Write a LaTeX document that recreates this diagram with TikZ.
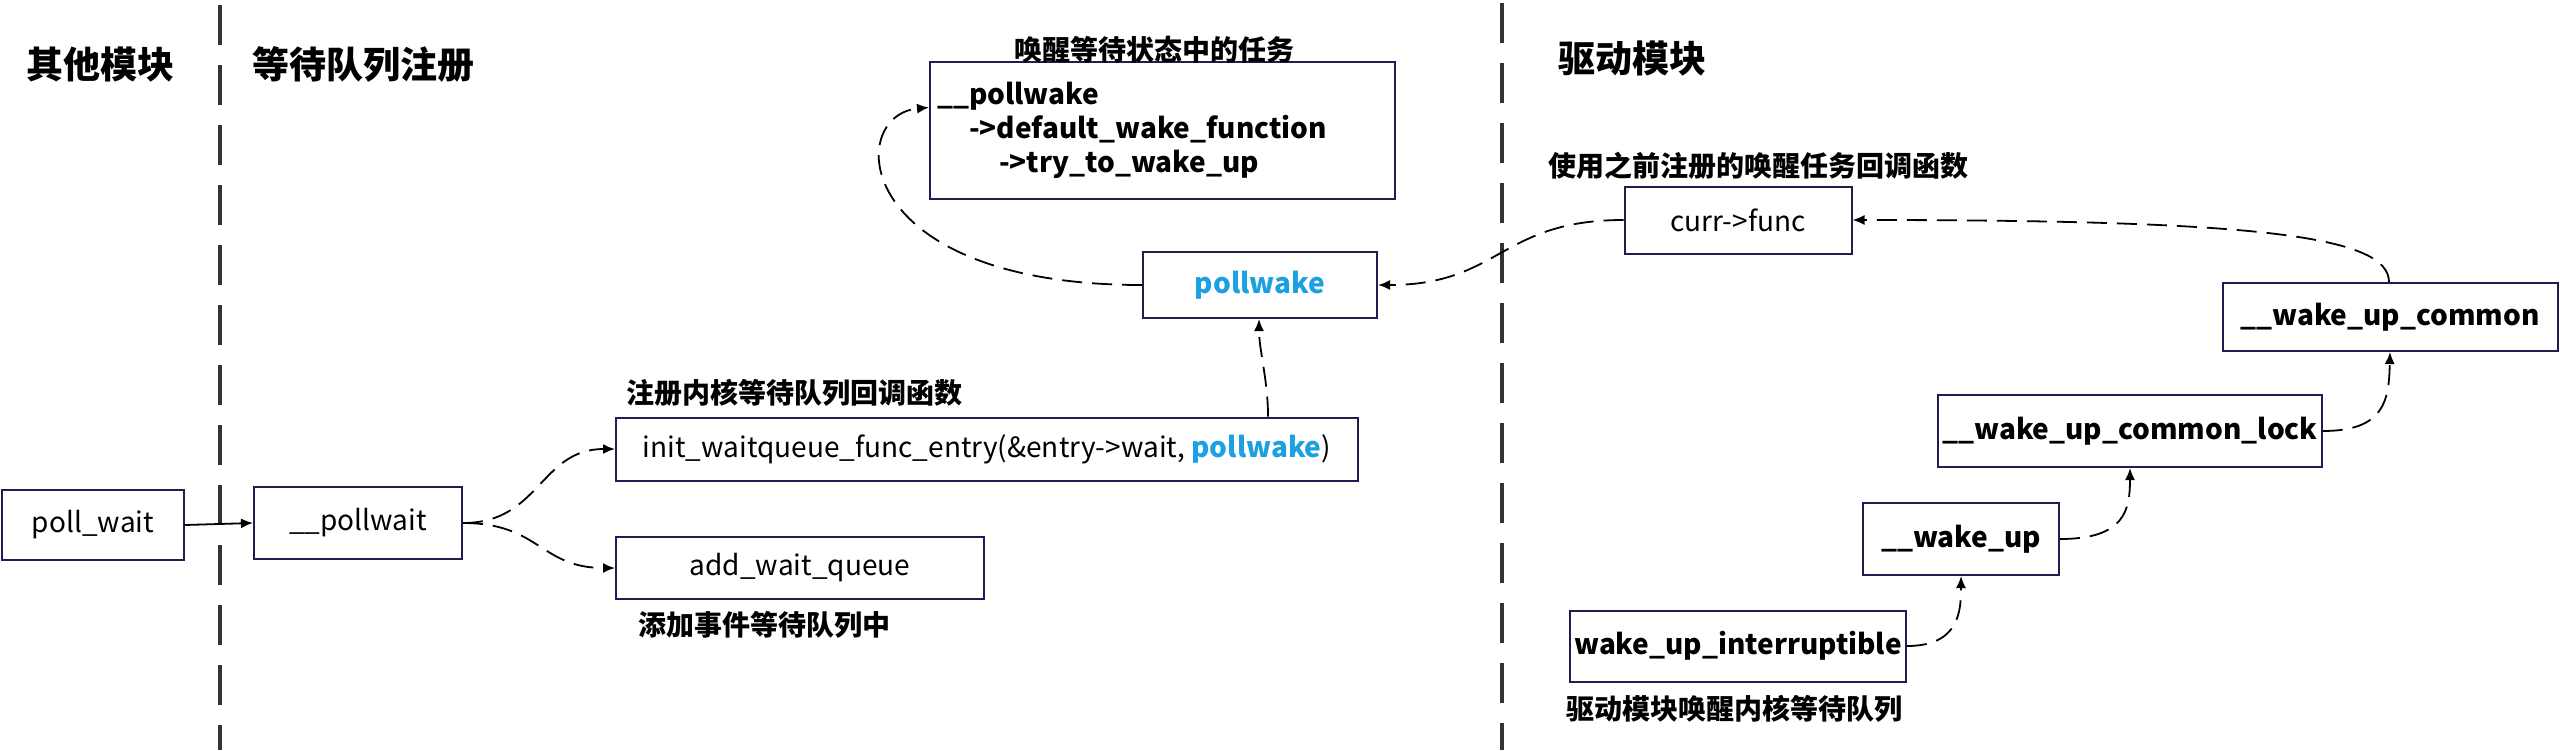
\documentclass[tikz,border=0pt]{standalone}
\usepackage{fontspec}
\setmainfont{Noto Sans CJK SC}
\usetikzlibrary{arrows.meta}
\definecolor{boxline}{HTML}{1E1E50}
\definecolor{pwblue}{HTML}{1BA1E2}
\definecolor{sepgray}{HTML}{333333}
\begin{document}
\begin{tikzpicture}[x=1pt,y=-1pt,
  box/.style={draw=boxline,line width=2pt,fill=white,inner sep=4pt,text=black,font=\fontsize{28}{34}\selectfont},
  bbox/.style={box,font=\fontsize{28}{34}\selectfont\bfseries},
  title/.style={inner sep=0pt,font=\fontsize{37}{44}\selectfont\bfseries},
  note/.style={inner sep=0pt,font=\fontsize{28}{34}\selectfont\bfseries},
  conn/.style={line width=1.8pt,dash pattern=on 20pt off 10pt,-{Latex[length=12pt,width=10pt]}},
  solidconn/.style={line width=1.8pt,-{Latex[length=12pt,width=10pt]}},
  sep/.style={draw=sepgray,line width=4.5pt,dash pattern=on 40pt off 20pt}]
\useasboundingbox (0,0) rectangle (2560,750);
\fill[white] (0,0) rectangle (2560,750);

% separators
\coordinate (s1a) at (220,5);
\coordinate (s1b) at (220,750);
\coordinate (s2a) at (1502,3);
\coordinate (s2b) at (1502,750);
\draw[sep] (s1a) -- (s1b);
\draw[sep] (s2a) -- (s2b);

% titles
\node[title] (t1) at (100,64) {其他模块};
\node[title] (t2) at (363,64) {等待队列注册};
\node[title] (t3) at (1632,58) {驱动模块};

% left part
\node[box,minimum width=182pt,minimum height=70pt] (pollw) at (93,525) {poll\_wait};
\node[box,minimum width=208pt,minimum height=72pt] (pollwait) at (358,523) {\_\_pollwait};
\node[box,minimum width=742pt,minimum height=63pt] (init) at (987,449) {init\_waitqueue\_func\_entry(\&entry->wait, {\bfseries\color{pwblue}pollwake})};
\node[box,minimum width=368pt,minimum height=62pt] (addq) at (800,568) {add\_wait\_queue};
\node[note] (l1) at (794,393) {注册内核等待队列回调函数};
\node[note] (l2) at (764,625) {添加事件等待队列中};

\node[bbox,minimum width=234pt,minimum height=66pt,text=pwblue] (pwk) at (1260,285) {pollwake};
\node[bbox,minimum width=465pt,minimum height=137pt,text width=451pt,inner sep=7pt,align=left] (pwbox) at (1162.5,130.5)
  {\_\_pollwake\\\hspace*{32pt}->default\_wake\_function\\\hspace*{62pt}->try\_to\_wake\_up};
\node[note] (l3) at (1154,50) {唤醒等待状态中的任务};

% right part
\node[box,minimum width=227pt,minimum height=67pt] (curr) at (1738,220) {curr->func};
\node[note] (l4) at (1758,166) {使用之前注册的唤醒任务回调函数};
\node[bbox,minimum width=335pt,minimum height=68pt] (wuc) at (2390,317) {\_\_wake\_up\_common};
\node[bbox,minimum width=382pt,minimum height=72pt] (wucl) at (2130,431) {\_\_wake\_up\_common\_lock};
\node[bbox,minimum width=196pt,minimum height=72pt] (wu) at (1961,539) {\_\_wake\_up};
\node[bbox,minimum width=335pt,minimum height=71pt] (wui) at (1738,646) {wake\_up\_interruptible};
\node[note] (l5) at (1734,709) {驱动模块唤醒内核等待队列};

% connectors
\draw[solidconn] (pollw.east) -- (pollwait.west);
\draw[conn] (pollwait.east) .. controls (540,523) and (540,449) .. (init.west);
\draw[conn] (pollwait.east) .. controls (540,523) and (540,568) .. (addq.west);
\draw[conn] ([xshift=281pt]init.north) .. controls (1268,380) and (1259,350) .. ([xshift=-1pt]pwk.south);
\draw[conn] (pwk.west) .. controls (850,285) and (845,115) .. ([yshift=23pt]pwbox.west);
\draw[conn] (curr.west) .. controls (1500,220) and (1500,285) .. (pwk.east);
\draw[conn] ([xshift=-1pt]wuc.north) .. controls (2389,235) and (2250,220) .. (curr.east);
\draw[conn] (wucl.east) .. controls (2385,431) and (2389,400) .. (wuc.south);
\draw[conn] (wu.east) .. controls (2125,539) and (2130,510) .. (wucl.south);
\draw[conn] (wui.east) .. controls (1960,646) and (1961,610) .. (wu.south);
\end{tikzpicture}
\end{document}
